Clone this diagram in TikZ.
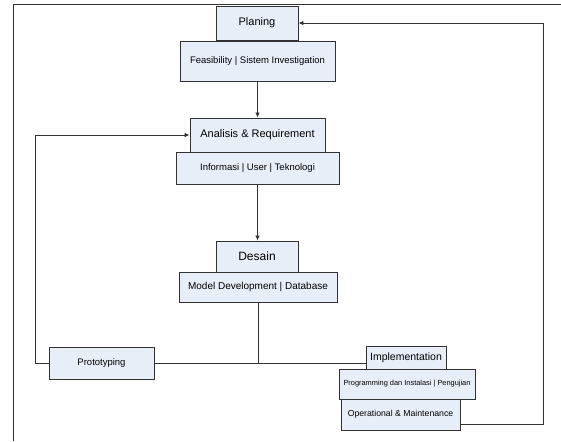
\documentclass[tikz,border=0pt]{standalone}
\usepackage{fontspec}
\setmainfont{Liberation Sans}
\usetikzlibrary{arrows.meta}
\definecolor{boxfill}{RGB}{232,238,248}
\definecolor{boxline}{RGB}{50,50,50}
\definecolor{conn}{RGB}{50,50,50}
\begin{document}
\begin{tikzpicture}[x=1pt,y=-1pt,
  boxbase/.style={draw=boxline,line width=0.9pt,fill=boxfill,inner sep=0pt,anchor=center},
  bigbox/.style={boxbase,font=\fontsize{11}{12}\selectfont},
  smallbox/.style={boxbase,font=\fontsize{9.5}{11}\selectfont},
  link/.style={draw=conn,line width=0.8pt},
  arrowlink/.style={link,-{Latex[length=5pt,width=4.5pt]}}
]
\useasboundingbox (0,0) rectangle (561,441);
% frame
\draw[draw=conn,line width=1pt] (13,441) -- (13,4.5) -- (561,4.5);

% Planing
\node[bigbox,minimum width=82pt,minimum height=34pt] (plan) at (257,23) {Planing};
\node[smallbox,minimum width=155pt,minimum height=40pt] (feas) at (257.5,61) {Feasibility | Sistem Investigation};

% Analisis
\node[bigbox,minimum width=135pt,minimum height=34pt] (ana) at (257.5,135) {Analisis \& Requirement};
\node[smallbox,minimum width=163pt,minimum height=32pt] (info) at (257.5,168) {Informasi | User | Teknologi};

% Desain
\node[bigbox,font=\fontsize{12}{13}\selectfont,minimum width=82pt,minimum height=31pt] (des) at (257,256.5) {Desain};
\node[smallbox,font=\fontsize{10}{11}\selectfont,minimum width=158pt,minimum height=30pt] (model) at (258,287) {Model Development | Database};

% Prototyping
\node[smallbox,minimum width=105pt,minimum height=32pt] (proto) at (101.5,363) {Prototyping};

% Implementation
\node[bigbox,font=\fontsize{10.5}{12}\selectfont,minimum width=80pt,minimum height=23pt] (impl) at (406,357.5) {Implementation};
\node[smallbox,font=\fontsize{7.4}{9}\selectfont,minimum width=136pt,minimum height=30pt] (prog) at (407,384) {Programming dan Instalasi | Pengujian};
\node[smallbox,font=\fontsize{8.7}{10}\selectfont,minimum width=119pt,minimum height=31pt] (oper) at (400.5,414.5) {Operational \& Maintenance};

% connectors
\coordinate (jn) at (model.south |- proto.east);
\coordinate (lt) at (35,363);
\coordinate (ltop) at (35,135);
\coordinate (rb) at (543,424);
\coordinate (rt) at (543,23);

\draw[arrowlink] (feas.south) -- (feas.south |- ana.north);
\draw[arrowlink] (info.south) -- (info.south |- des.north);
\draw[link] (model.south) -- (jn);
\draw[link] (proto.east) -- (proto.east -| impl.west);
\draw[arrowlink] (proto.west) -- (lt) -- (ltop) -- (ana.west);
\draw[arrowlink] (rb -| oper.east) -- (rb) -- (rt) -- (plan.east);
\end{tikzpicture}
\end{document}
